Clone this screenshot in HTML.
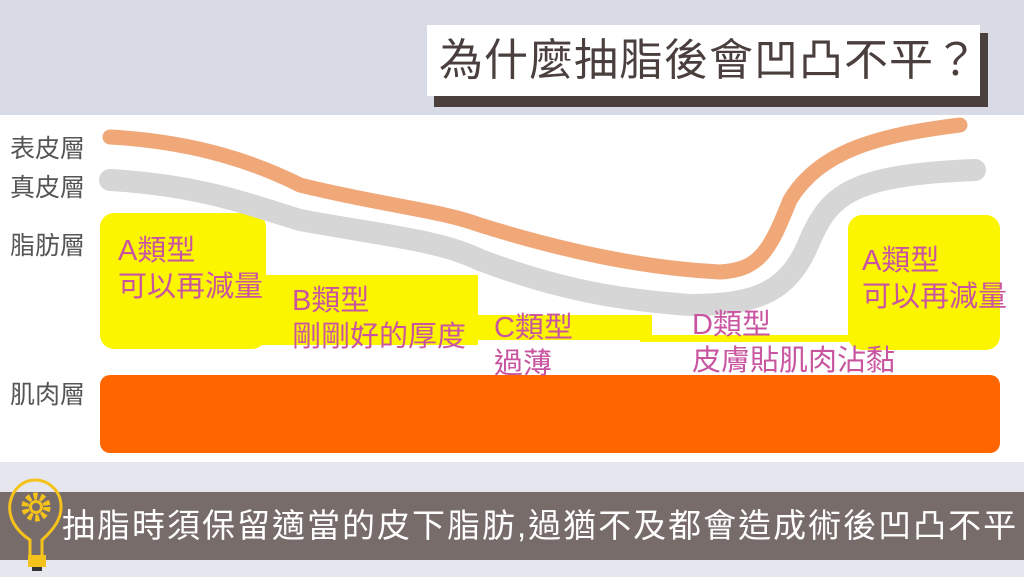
<!DOCTYPE html>
<html><head><meta charset="utf-8"><style>
body{margin:0;width:1024px;height:577px;overflow:hidden;position:relative;background:#e6e7ee;font-family:"Liberation Sans","Noto Sans CJK TC",sans-serif}
.a{position:absolute;white-space:nowrap}
.lbl{color:#555;font-size:25px}
.pk{color:#c955a0;font-size:29px;line-height:36px}
</style></head><body>
<div class="a" style="left:0;top:0;width:1024px;height:115px;background:#d8dbe5"></div>
<div class="a" style="left:0;top:115px;width:1024px;height:347px;background:#fff"></div>
<div class="a" style="left:434px;top:33px;width:554px;height:74px;background:#4a3f3d"></div>
<div class="a" style="left:427px;top:25px;width:553px;height:71px;background:#fff;color:#4a3f3d;font-size:44px;line-height:71px;padding-left:12px;box-sizing:border-box;letter-spacing:1px">為什麼抽脂後會凹凸不平？</div>
<svg class="a" style="left:0;top:0" width="1024" height="577">
<rect x="100" y="213" width="166" height="136" rx="14" fill="#fbf600"/>
<rect x="250" y="275" width="228" height="70" fill="#fbf600"/>
<rect x="470" y="315" width="182" height="25" fill="#fbf600"/>
<rect x="640" y="335" width="215" height="7" fill="#fbf600"/>
<rect x="848" y="215" width="152" height="135" rx="14" fill="#fbf600"/>
<rect x="100" y="375" width="900" height="78" rx="10" fill="#ff6600"/>
<path d="M110,180 C200,185 250,205 300,220 C380,235 440,240 480,260 C560,290 620,300 690,305 C760,305 790,290 810,240 C830,195 850,175 975,170" fill="none" stroke="#d6d6d6" stroke-width="22" stroke-linecap="round"/>
<path d="M110,137 C200,142 260,165 300,185 C380,205 440,210 480,225 C560,250 640,268 720,272 C760,270 770,250 790,200 C820,150 880,135 960,125" fill="none" stroke="#f0a878" stroke-width="15" stroke-linecap="round"/>
</svg>
<div class="a lbl" style="left:10px;top:129px">表皮層</div>
<div class="a lbl" style="left:10px;top:168px">真皮層</div>
<div class="a lbl" style="left:10px;top:226px">脂肪層</div>
<div class="a lbl" style="left:10px;top:375px">肌肉層</div>
<div class="a pk" style="left:118px;top:233px">A類型<br>可以再減量</div>
<div class="a pk" style="left:292px;top:283px">B類型<br>剛剛好的厚度</div>
<div class="a pk" style="left:494px;top:310px">C類型<br>過薄</div>
<div class="a pk" style="left:692px;top:307px">D類型<br>皮膚貼肌肉沾黏</div>
<div class="a pk" style="left:862px;top:243px">A類型<br>可以再減量</div>
<div class="a" style="left:0;top:492px;width:1024px;height:68px;background:#786c6a"></div>
<div class="a" style="left:62px;top:492px;color:#fff;font-size:33px;letter-spacing:2px;line-height:68px">抽脂時須保留適當的皮下脂肪,過猶不及都會造成術後凹凸不平</div>
<svg class="a" style="left:5px;top:475px" width="60" height="100">
<path d="M25,82 L25,65 C10,55 3,42 5,28 C8,12 20,5 30,5 C42,5 55,14 56,30 C57,44 48,55 37,65 L37,82 Z" fill="none" stroke="#f5c21b" stroke-width="3"/>
<circle cx="31" cy="32" r="11" fill="none" stroke="#f5c21b" stroke-width="7" stroke-dasharray="4 3"/>
<circle cx="31" cy="32" r="7" fill="#f5c21b"/><circle cx="31" cy="32" r="4" fill="#786c6a"/>
<rect x="23" y="80" width="18" height="12" fill="#f5c21b"/>
<rect x="27" y="92" width="10" height="4" fill="#333"/>
</svg>
</body></html>
